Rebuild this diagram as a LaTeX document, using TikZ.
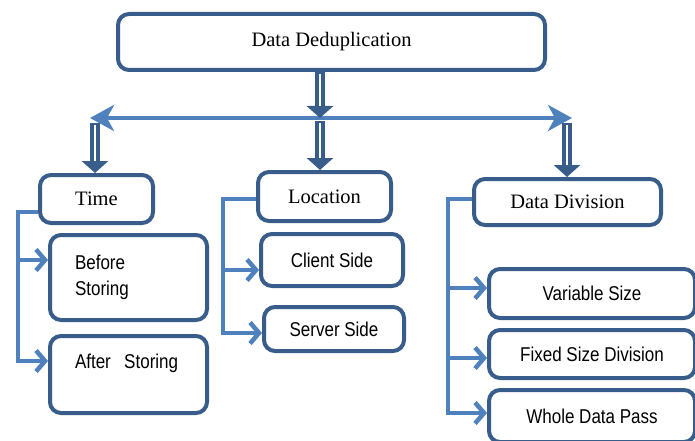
\documentclass[tikz,border=0pt]{standalone}
\usepackage{fontspec}
\setmainfont{Liberation Serif}
\newfontfamily\arialf[FakeStretch=0.85]{Liberation Sans}
\usetikzlibrary{arrows.meta}
\definecolor{dkblue}{RGB}{56,93,138}
\definecolor{ltblue}{RGB}{79,129,189}
\begin{document}
\begin{tikzpicture}[x=1pt,y=-1pt,
  box/.style={draw=dkblue, line width=4pt, rounded corners=11pt, fill=white, inner sep=0pt},
  serifl/.style={font=\fontsize{20.5}{24}\selectfont},
  sansl/.style={font=\arialf\fontsize{20}{26}\selectfont},
  link/.style={draw=ltblue, line width=4.5pt},
  linkarrow/.style={link, -{Straight Barb[length=9pt,width=21pt]}},
  dbl/.style={draw=dkblue, line width=10pt, -{Triangle[length=12pt,width=26pt]}},
  dblin/.style={draw=white, line width=2.5pt, shorten >=12pt, shorten <=2pt},
  harrow/.style={draw=ltblue, line width=4.5pt, {Stealth[length=24pt,width=26pt,inset=7pt]}-{Stealth[length=24pt,width=26pt,inset=7pt]}}
]
\useasboundingbox (0,0) rectangle (695,441);
\clip (0,0) rectangle (695,441);

% boxes
\node[box,serifl,minimum width=427pt,minimum height=56pt] (root) at (331.5,42) {Data Deduplication};
\node[box,serifl,minimum width=113pt,minimum height=48pt] (time) at (96.5,199) {Time};
\node[box,serifl,minimum width=133pt,minimum height=49pt] (location) at (324.5,196.5) {Location};
\node[box,serifl,minimum width=187pt,minimum height=46pt] (division) at (567.5,202) {Data Division};

\node[box,sansl,minimum width=157pt,minimum height=85pt,text width=107pt,align=left] (before) at (128.5,277.5) {Before\\Storing};
\node[box,sansl,minimum width=157pt,minimum height=77pt,text width=107pt,align=left] (after) at (128.5,374.5) {After\ \ Storing\\\mbox{}};

\node[box,sansl,minimum width=142pt,minimum height=52pt] (client) at (332,260) {Client Side};
\node[box,sansl,minimum width=140pt,minimum height=44pt] (server) at (334,329) {Server Side};

\node[box,sansl,minimum width=206pt,minimum height=49pt] (variable) at (592,293.5) {Variable Size};
\node[box,sansl,minimum width=206pt,minimum height=48pt] (fixed) at (592,354) {Fixed Size Division};
\node[box,sansl,minimum width=206pt,minimum height=52pt] (whole) at (592,416) {Whole Data Pass};

% horizontal distribution arrow
\coordinate (hL) at (90,118);
\coordinate (hR) at (572,118);
\coordinate (hM) at (320,118);
\draw[harrow] (hL) -- (hR);

% double arrows
\draw[dbl] (root.south -| hM) -- (hM);
\draw[dblin] (root.south -| hM) -- (hM);
\coordinate (m0) at (320,121);
\draw[dbl] (m0) -- (m0 |- location.north);
\draw[dblin] (m0) -- (m0 |- location.north);
\coordinate (l0) at (95,123);
\draw[dbl] (l0) -- (l0 |- time.north);
\draw[dblin] (l0) -- (l0 |- time.north);
\coordinate (r0) at (567,123);
\draw[dbl] (r0) -- (r0 |- division.north);
\draw[dblin] (r0) -- (r0 |- division.north);

% brackets
\coordinate (tb) at (18,212);
\draw[linkarrow] (time.west |- tb) -- (tb) |- (after.west |- 0,361);
\draw[linkarrow] (tb |- 0,260) -- (before.west |- 0,260);

\coordinate (lb) at (223,199);
\draw[linkarrow] (location.west |- lb) -- (lb) |- (server.west |- 0,333);
\draw[linkarrow] (lb |- 0,270) -- (client.west |- 0,270);

\coordinate (db) at (448,199);
\draw[linkarrow] (division.west |- db) -- (db) |- (whole.west |- 0,413);
\draw[linkarrow] (db |- 0,288) -- (variable.west |- 0,288);
\draw[linkarrow] (db |- 0,358) -- (fixed.west |- 0,358);
\end{tikzpicture}
\end{document}
